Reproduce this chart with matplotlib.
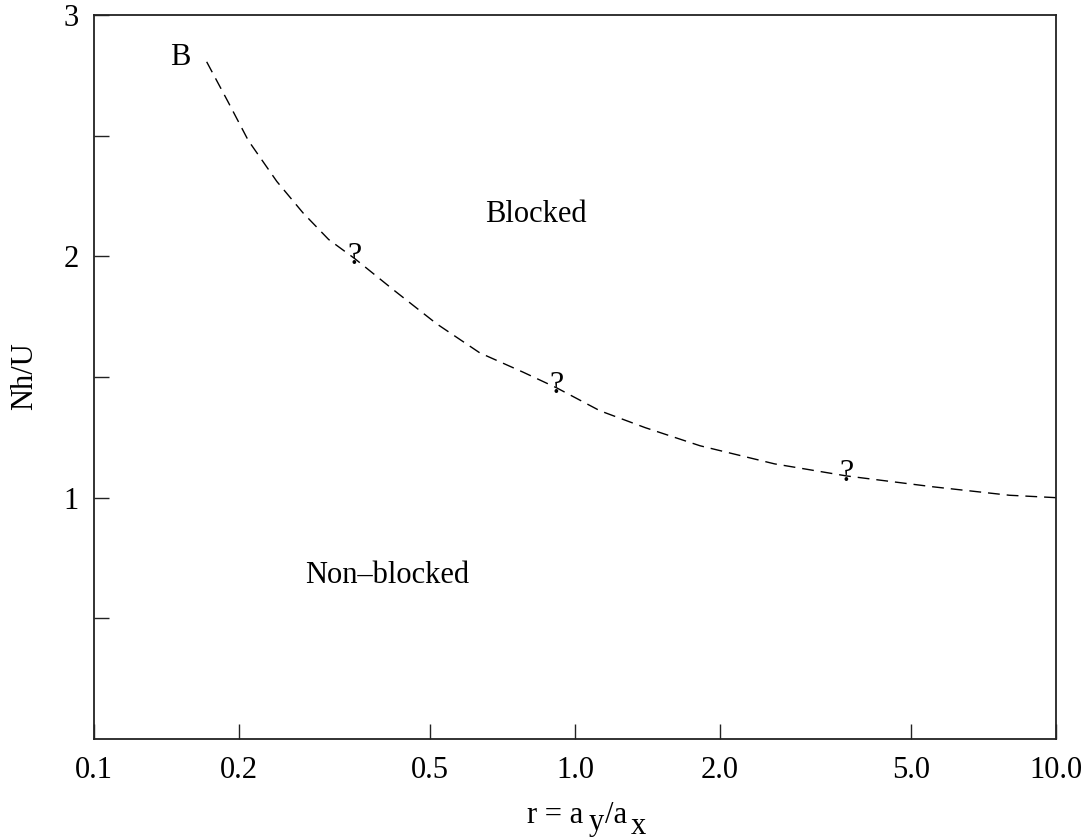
import matplotlib
matplotlib.use("Agg")
import matplotlib.pyplot as plt
import numpy as np

plt.rcParams['font.family'] = ['Liberation Serif', 'DejaVu Serif']

# boundary curve
r_vals = [0.1715, 0.19, 0.2093, 0.24, 0.272, 0.3074, 0.3487, 0.42, 0.516, 0.634, 0.78,
          0.916, 1.127, 1.4, 1.82, 2.6, 3.67, 5.55, 8.0, 10.0]
nh_vals = [2.806, 2.64, 2.48, 2.31, 2.18, 2.07, 1.99, 1.86, 1.72, 1.60, 1.52,
           1.455, 1.36, 1.29, 1.215, 1.14, 1.09, 1.045, 1.01, 1.0]

# "?" marks on the curve
q_r = [0.3487, 0.916, 3.67]
q_nh = [1.99, 1.455, 1.09]

xticks = [0.1, 0.2, 0.5, 1.0, 2.0, 5.0, 10.0]
xticklabels = ['0.1', '0.2', '0.5', '1.0', '2.0', '5.0', '10.0']
yticks = [0.5, 1.0, 1.5, 2.0, 2.5, 3.0]
yticklabels = ['', '1', '', '2', '', '3']

W, H = 1081, 840
fig = plt.figure(figsize=(W / 100, H / 100), dpi=100)
ax = fig.add_axes([94 / W, 1 - 739 / H, (1056 - 94) / W, (739 - 15) / H])

ax.plot(r_vals, nh_vals, color='black', lw=1.0, ls=(0, (8.5, 5)))
for x, y in zip(q_r, q_nh):
    ax.annotate('?', xy=(x, y), xytext=(0, 1.5), textcoords='offset points',
                fontsize=23, ha='center', va='center')

ax.set_xscale('log')
ax.set_xlim(0.1, 10)
ax.set_ylim(0, 3)
ax.set_xticks(xticks)
ax.set_xticklabels(xticklabels)
ax.xaxis.set_minor_locator(matplotlib.ticker.NullLocator())
ax.set_yticks(yticks)
ax.set_yticklabels(yticklabels)
ax.tick_params(direction='in', length=11, width=1.0, labelsize=22, color='#222222')
ax.tick_params(axis='x', pad=12)
ax.tick_params(axis='y', pad=11)
for s in ax.spines.values():
    s.set_linewidth(1.3)
    s.set_color('#222222')

ax.text(0.1514, 2.793, 'B', fontsize=22, ha='center', va='baseline')
ax.text(0.829, 2.143, 'Blocked', fontsize=22, ha='center', va='baseline')
ax.text(0.407, 0.646, 'Non\u2013blocked', fontsize=22, ha='center', va='baseline')

# y label
fig.text(25 / W, 1 - 376 / H, 'Nh/U', fontsize=22, rotation=90, ha='center', va='center')

# x label with lowered subscripts
t1 = fig.text(527 / W, 1 - 823 / H, 'r = a', fontsize=22, ha='left', va='baseline')
t2 = ax.annotate('y', xy=(1, 0), xycoords=t1, xytext=(4, -5), textcoords='offset points',
                 fontsize=22, ha='left', va='bottom', annotation_clip=False)
t3 = ax.annotate('/a', xy=(1, 0), xycoords=t2, xytext=(1, 5), textcoords='offset points',
                 fontsize=22, ha='left', va='bottom', annotation_clip=False)
t4 = ax.annotate('x', xy=(1, 0), xycoords=t3, xytext=(2, -8), textcoords='offset points',
                 fontsize=22, ha='left', va='bottom', annotation_clip=False)

fig.savefig('out.png', dpi=100)
